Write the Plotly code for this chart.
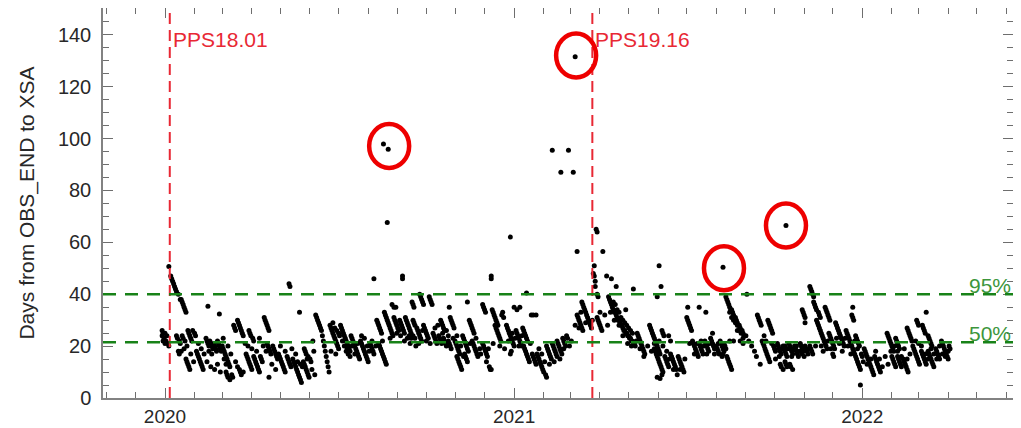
import pandas as pd
import plotly.graph_objects as go

# ---------------- data: (day offset from 2020-01-01, days from OBS_END to XSA) ----------------
obs_2020_q1 = [
    (-3, 24), (-2, 25), (-1, 23), (-2, 22), (0, 21), (1, 22), (0, 25), (2, 24), (3, 21), (4, 20), (-3, 26),
    (4, 50.7), (6, 47), (7, 46), (8, 45), (9, 44), (10, 43), (11, 42), (12, 41), (14, 40), (16, 38), (17, 38),
    (18, 37), (19, 36), (20, 35), (21, 34), (22, 33),
    (12, 24), (13, 23), (15, 22), (16, 21), (18, 24), (19, 23), (21, 22), (24, 26), (25, 25), (26, 24), (27, 23), (28, 22),
    (14, 18), (15, 17), (17, 18), (22, 15), (23, 14), (24, 13), (25, 12), (26, 11),
    (33, 18), (34, 17), (35, 16), (36, 15), (37, 14), (38, 13), (39, 12), (40, 11), (31, 25), (32, 24), (29, 26),
    (45, 35.4), (57, 32.4),
    (43, 23), (44, 22), (45, 21), (46, 20), (47, 22), (48, 21), (49, 20), (50, 19), (51, 21), (52, 20), (53, 19),
    (54, 18), (55, 22), (56, 21), (57, 20), (58, 19), (59, 18), (46, 18), (49, 17),
    (60, 20), (61, 19), (62, 18), (63, 17), (64, 16), (65, 15), (66, 14), (67, 13), (68, 12), (62, 15), (64, 13),
    (64, 10), (65, 9), (66, 8), (68, 7), (70, 9), (71, 8),
    (72, 28), (73, 27), (74, 26), (76, 30), (77, 29), (78, 28), (79, 27), (80, 26), (81, 25), (82, 24),
    (78, 11), (79, 10), (80, 9), (82, 10),
]
obs_2020_q2 = [
    (85, 17), (86, 16), (87, 15), (88, 14), (89, 13), (90, 12), (91, 11), (93, 16), (94, 15), (95, 14), (96, 13),
    (97, 12), (98, 11), (99, 10), (100, 16), (101, 15), (102, 14),
    (88, 26), (89, 25), (90, 24), (92, 23), (93, 22),
    (104, 31), (105, 30), (106, 29), (107, 28), (108, 27), (109, 26),
    (107, 21), (108, 20), (109, 19), (110, 18), (111, 17), (113, 20), (114, 19), (115, 18), (116, 17), (117, 16), (118, 15),
    (109, 8),
    (119, 17), (120, 16), (121, 15), (122, 14), (123, 13), (124, 12), (125, 11), (126, 10), (128, 16), (129, 15),
    (130, 14), (131, 13), (132, 12),
    (130, 44), (131, 43), (141, 33),
    (134, 15), (135, 14), (136, 13), (137, 12), (138, 11), (139, 10), (140, 9), (141, 8), (142, 7), (143, 6),
    (145, 14), (146, 13), (147, 12), (148, 11), (149, 10), (150, 9), (151, 8), (144, 12), (152, 15), (153, 14),
    (146, 19), (147, 18), (148, 17), (150, 16), (155, 22), (156, 18),
    (158, 32), (159, 31), (160, 30), (161, 29), (162, 28), (163, 27), (164, 26), (165, 24), (166, 22), (167, 20),
    (168, 18), (169, 16), (170, 14), (171, 12), (172, 10),
]
obs_2020_q3 = [
    (173, 28), (174, 27), (175, 26), (176, 25), (177, 24), (178, 23), (179, 22), (180, 21), (181, 20), (182, 19),
    (176, 29), (178, 27), (180, 26), (182, 25),
    (184, 28), (185, 27), (186, 26), (187, 25), (188, 24), (189, 23), (190, 22), (191, 21), (192, 20), (193, 19),
    (194, 18), (195, 24), (196, 23), (197, 22), (198, 21), (199, 20), (200, 19), (201, 18), (202, 17), (203, 16),
    (204, 15), (190, 18), (192, 17), (194, 16),
    (205, 22), (206, 21), (207, 20), (208, 19), (209, 18), (210, 17), (211, 16), (212, 15), (213, 14),
    (215, 21), (216, 20), (217, 19), (218, 18), (219, 17), (219, 46),
    (222, 30), (223, 29), (224, 28), (225, 27), (226, 26), (227, 25), (224, 21), (225, 20), (226, 19), (227, 18),
    (228, 17), (229, 16), (230, 15), (231, 14), (232, 13),
    (230, 33), (231, 32), (232, 31), (233, 30), (234, 29), (235, 28), (236, 27), (237, 26), (238, 25),
    (238, 36), (240, 35), (242, 35), (233, 67.6),
    (240, 31), (241, 30), (242, 29), (243, 28), (244, 27), (245, 26), (246, 30), (247, 29), (248, 28), (249, 27),
    (250, 26), (251, 25), (252, 31), (253, 30), (254, 29), (255, 28), (256, 27), (257, 26), (258, 25), (260, 30),
    (261, 29), (262, 28), (249, 47), (249, 46),
    (256, 24), (258, 23), (260, 24), (262, 23), (264, 27), (265, 26), (266, 25), (267, 24), (268, 23), (269, 22),
    (271, 28), (272, 27), (273, 26), (274, 25), (275, 24), (276, 23),
    (259, 37), (260, 36), (261, 35), (267, 40), (268, 39), (269, 38), (270, 37), (271, 36), (277, 39), (278, 38),
    (279, 37), (280, 36),
]
obs_2020_q4 = [
    (281, 25), (282, 24), (283, 23), (284, 22), (285, 21), (287, 24), (288, 23), (289, 22), (290, 21), (292, 23),
    (293, 22), (294, 21), (295, 20), (297, 22), (298, 21), (299, 20), (300, 19),
    (289, 30), (290, 29), (291, 28), (292, 27), (293, 26), (299, 31), (300, 30), (301, 29), (302, 28), (303, 27),
    (298, 35), (317, 37),
    (304, 22), (305, 21), (306, 20), (307, 19), (308, 18), (309, 17), (312, 24), (313, 23), (314, 22), (315, 21),
    (316, 20), (317, 19), (318, 18), (322, 22), (323, 21), (324, 20), (325, 19), (326, 18), (327, 17), (328, 16),
    (306, 16), (307, 15), (308, 14), (309, 13), (310, 12), (311, 11), (314, 17), (315, 16), (316, 15), (317, 14),
    (319, 30), (320, 29), (321, 28), (322, 27), (323, 26), (324, 25),
    (333, 21), (334, 20), (335, 19), (336, 18), (337, 17), (338, 16), (340, 12), (341, 11), (342, 11),
    (333, 36), (334, 35), (335, 34), (336, 33), (342, 47), (342, 46),
    (343, 34), (344, 33), (345, 32), (346, 31), (347, 30), (348, 29), (349, 28),
    (346, 28), (347, 27), (348, 26), (349, 25), (350, 24), (351, 23), (352, 22),
    (353, 32), (355, 31), (354, 33),
]
obs_2021_h1 = [
    (362, 62),
    (358, 28), (359, 27), (360, 26), (361, 25), (362, 24), (363, 23), (364, 22), (365, 21), (366, 20), (368, 26),
    (369, 25), (370, 24), (371, 23), (372, 22), (373, 21), (374, 20), (375, 27), (376, 26), (377, 25), (378, 24),
    (379, 23), (366, 35), (369, 34), (372, 35), (379, 40.5), (362, 17), (363, 18),
    (376, 20), (377, 19), (378, 18), (379, 17), (380, 16), (381, 15), (382, 14), (384, 32), (386, 32), (389, 32),
    (385, 17), (386, 16), (387, 15), (388, 14), (389, 13), (390, 17), (391, 16), (392, 15), (393, 14), (394, 13),
    (395, 12), (396, 11), (397, 10), (399, 9), (400, 8),
    (400, 20), (401, 19), (402, 18), (403, 17), (404, 16), (405, 15), (406, 21), (407, 20), (408, 19), (409, 18),
    (410, 17), (411, 22), (412, 21), (413, 20), (414, 19), (415, 18), (416, 17), (417, 23), (418, 22), (419, 21),
    (420, 20), (421, 24), (422, 23),
    (406, 95.5), (423, 95.5), (415, 87), (428, 87), (432, 56.5),
    (432, 32), (433, 31), (434, 30), (435, 29), (436, 28), (437, 27), (438, 26), (437, 37), (438, 36), (439, 35),
    (440, 34), (441, 33), (442, 32), (443, 31), (444, 30), (445, 29), (446, 28), (447, 27),
    (450, 51), (452, 65), (453, 64), (449, 48), (450, 47), (451, 45), (451, 43),
    (453, 31), (454, 30), (455, 29), (456, 28), (457, 27), (458, 26), (459, 56.5), (453, 40), (454, 39),
    (463, 47), (468, 46), (473, 43),
    (465, 39), (466, 38), (467, 37), (468, 36), (469, 35), (470, 34), (471, 33), (472, 33), (473, 32), (474, 31),
    (475, 30), (476, 30), (477, 29), (478, 28), (479, 28), (480, 27), (481, 26), (482, 26), (483, 25), (484, 25),
    (485, 24), (486, 24), (487, 23), (488, 23), (489, 22), (490, 22), (491, 21), (492, 21), (493, 20),
    (470, 37), (472, 36), (474, 34), (476, 33), (478, 31), (480, 30), (482, 29), (484, 28), (486, 27), (488, 26), (490, 25),
]
obs_2021_h2 = [
    (483, 34), (491, 42), (518, 51), (520, 43), (516, 39),
    (495, 25), (496, 24), (497, 23), (498, 22), (499, 21), (500, 20), (501, 19), (502, 18), (503, 17),
    (508, 28), (509, 27), (510, 26), (511, 25), (512, 24), (513, 23), (514, 22), (515, 21), (516, 20), (517, 19),
    (518, 18), (519, 17), (521, 26), (522, 25), (523, 24),
    (513, 19), (514, 18), (515, 17), (516, 16), (517, 15), (518, 14), (519, 13), (520, 12), (521, 11), (522, 10),
    (524, 16), (525, 15), (526, 14), (527, 13), (528, 12), (516, 8), (519, 7.5), (521, 9),
    (530, 17), (531, 16), (532, 15), (533, 14), (534, 13), (535, 12), (536, 11), (538, 16), (539, 15), (540, 14),
    (541, 13), (542, 12), (543, 11), (544, 10), (528, 24), (530, 22),
    (547, 31), (548, 30), (549, 29), (550, 28), (551, 27), (552, 26), (548, 35), (567, 33), (560, 35),
    (553, 22), (554, 21), (555, 20), (556, 19), (557, 18), (558, 17), (559, 16), (560, 21), (561, 20), (562, 19),
    (563, 18), (564, 17), (566, 22), (567, 21), (568, 20), (569, 19), (570, 18), (572, 23), (573, 22), (574, 21),
    (575, 20), (576, 19), (578, 20), (579, 19), (580, 18), (581, 17), (582, 22), (583, 21), (584, 20), (585, 19),
    (574, 25),
    (588, 39), (589, 38), (590, 37), (591, 36), (592, 35), (593, 34), (594, 34), (595, 33), (596, 32), (597, 31),
    (598, 31), (599, 30), (600, 29), (601, 28), (602, 28), (603, 27), (604, 26), (605, 26), (606, 25), (607, 24),
    (592, 33), (594, 31), (596, 30), (598, 29), (600, 28), (602, 26), (604, 25), (606, 23),
    (586, 21), (587, 20), (585, 17), (586, 18), (589, 16), (590, 15), (591, 14), (592, 13), (593, 12), (594, 11),
    (610, 40),
    (621, 32), (622, 31), (623, 30), (624, 29), (625, 28), (632, 30), (633, 29), (634, 28), (635, 27), (636, 26), (637, 25),
    (626, 22), (627, 21), (628, 20), (629, 19), (630, 18), (631, 17), (632, 16), (633, 15), (634, 14), (638, 20),
    (639, 19), (640, 18),
    (642, 21), (643, 20), (644, 19), (645, 18), (646, 17), (648, 20), (649, 19), (650, 18), (651, 17), (652, 16),
    (654, 21), (655, 20), (656, 19), (657, 18), (658, 17), (660, 20), (661, 19), (662, 18), (663, 17), (664, 16),
    (666, 21), (667, 20), (668, 19), (669, 18), (671, 20), (672, 19), (673, 18), (674, 17), (676, 20), (677, 19), (678, 18),
    (645, 13), (646, 12), (648, 11), (650, 14), (651, 13), (652, 12), (655, 13), (656, 12), (658, 11),
    (668, 34), (669, 33), (670, 32), (671, 31), (671, 29),
    (676, 43), (677, 42), (678, 41), (679, 40), (680, 39),
    (680, 37), (681, 36), (682, 35), (683, 34), (685, 33), (686, 32), (687, 31), (692, 35), (693, 34), (694, 33),
    (695, 32), (696, 31), (697, 30),
    (683, 30), (684, 29), (685, 28), (686, 27), (687, 26), (688, 25), (689, 24), (690, 23), (691, 22), (692, 21),
    (693, 20), (694, 19), (696, 25), (697, 24), (698, 23), (699, 22), (700, 21), (701, 20), (702, 19),
    (703, 29), (704, 28), (705, 27), (706, 26), (707, 25), (708, 24), (709, 23), (710, 22), (711, 21), (712, 20),
    (700, 17), (701, 16),
]
obs_2022 = [
    (721, 35), (720, 32), (721, 31), (722, 30),
    (714, 26), (715, 25), (716, 24), (717, 23), (718, 22), (719, 21), (720, 20), (721, 19), (724, 24), (725, 23),
    (726, 22), (727, 21), (728, 20),
    (722, 18), (723, 17), (724, 16), (725, 15), (726, 14), (727, 13), (728, 12), (729, 11), (730, 17), (731, 16),
    (729, 5),
    (733, 19), (734, 18), (735, 17), (736, 16), (737, 15), (738, 14), (739, 13), (740, 12), (741, 11), (742, 10),
    (743, 9), (744, 16), (745, 15), (746, 14), (747, 13), (748, 12), (749, 11), (750, 10),
    (757, 25), (758, 24), (759, 23), (760, 22), (761, 21), (762, 20), (763, 19), (764, 18), (766, 23), (767, 22),
    (768, 21), (769, 20), (770, 19),
    (762, 16), (763, 15), (764, 14), (765, 13), (766, 12), (768, 16), (769, 15), (770, 14), (771, 13), (772, 12),
    (774, 15), (775, 14), (776, 13), (777, 12), (778, 11), (779, 10),
    (778, 27), (779, 26), (780, 25), (781, 24), (782, 23), (783, 22),
    (788, 30), (789, 29), (790, 28), (794, 28), (795, 27), (796, 26), (797, 25), (798, 33),
    (785, 19), (786, 18), (787, 17), (788, 16), (789, 15), (790, 14), (791, 13), (793, 18), (794, 17), (795, 16),
    (796, 15), (797, 14), (798, 13), (800, 18), (801, 17), (802, 16), (803, 15), (804, 14), (805, 13), (806, 12),
    (808, 19), (809, 18), (810, 17), (811, 16), (812, 15),
    (800, 24), (801, 23), (802, 22), (803, 21), (804, 20),
    (814, 22), (815, 21), (816, 20), (817, 19), (818, 18), (819, 17), (820, 16), (821, 15), (822, 20), (823, 19),
]
obs_scattered = [
    (20, 19), (23, 20), (27, 17), (30, 14), (35, 21), (38, 19), (41, 17), (44, 14), (48, 12), (52, 11), (55, 13),
    (58, 10), (61, 23), (66, 20), (69, 17), (74, 14), (76, 12), (84, 21), (87, 20), (91, 19), (96, 18), (99, 23),
    (103, 20), (106, 18), (112, 13), (116, 11), (121, 20), (126, 18), (133, 19), (137, 17), (139, 14), (142, 13),
    (149, 15), (154, 11), (157, 9), (174, 18), (179, 17), (183, 24), (186, 22), (188, 20), (191, 19), (196, 20),
    (199, 17), (202, 21), (206, 24), (209, 23), (212, 20), (214, 18), (217, 22), (221, 20), (228, 22), (236, 23),
    (239, 24), (243, 25), (247, 24), (251, 22), (254, 23), (257, 21), (263, 20), (266, 21), (270, 26), (274, 22),
    (278, 21), (283, 27), (286, 28), (291, 25), (295, 26), (297, 24), (302, 23), (306, 24), (310, 20), (313, 16),
    (320, 21), (326, 23), (330, 19), (331, 17), (337, 14), (339, 19), (344, 21), (351, 20), (356, 19), (360, 22),
    (364, 25), (367, 23), (371, 20), (374, 24), (380, 22), (383, 21), (392, 19), (395, 17), (398, 14), (403, 13),
    (408, 14), (411, 16), (414, 15), (418, 19), (424, 20), (426, 22), (430, 28), (434, 27), (436, 33), (441, 29),
    (448, 30), (456, 33), (461, 32), (464, 28), (467, 33), (471, 30), (476, 28), (480, 24), (485, 21), (489, 20),
    (494, 22), (498, 19), (502, 16), (506, 20), (510, 18), (513, 21), (518, 22), (522, 20), (526, 18), (529, 15),
    (533, 11), (537, 9), (540, 11), (545, 15), (550, 21), (555, 17), (558, 21), (562, 22), (565, 20), (568, 17),
    (571, 21), (576, 17), (580, 21), (584, 16), (588, 19), (592, 22), (596, 22), (600, 26), (603, 22), (606, 21),
    (609, 24), (612, 22), (615, 20), (618, 18), (620, 16), (624, 13), (628, 24), (630, 22), (636, 21), (640, 15),
    (644, 16), (647, 19), (650, 20), (653, 19), (657, 16), (659, 19), (662, 20), (665, 18), (668, 17), (670, 16),
    (675, 19), (679, 17), (682, 20), (688, 20), (690, 18), (695, 22), (698, 19), (704, 23), (707, 21), (710, 18),
    (713, 23), (716, 20), (719, 17), (723, 22), (726, 19), (732, 14), (736, 13), (740, 15), (745, 18), (749, 15),
    (752, 12), (755, 16), (758, 13), (761, 18), (765, 20), (768, 18), (772, 16), (775, 19), (778, 15), (781, 17),
    (784, 20), (787, 22), (790, 21), (793, 20), (797, 17), (800, 15), (803, 19), (806, 17), (809, 15), (812, 20),
    (815, 17), (818, 16), (821, 18),
]
# highlighted (circled) observations
circled_day = [229, 234, 430, 585, 651]
circled_val = [97.9, 95.9, 131.5, 50.4, 66.5]
# circle centres (one circle per highlight group)
circle_day = [235, 431, 586, 651]
circle_val = [97.1, 132.0, 50.0, 66.5]

epoch = pd.Timestamp("2020-01-01")
release_dates = ["2020-01-06", "2021-03-24"]
release_names = ["PPS18.01", "PPS19.16"]
pct_levels = [40.0, 21.5]
pct_names = ["95%", "50%"]

all_obs = (obs_2020_q1 + obs_2020_q2 + obs_2020_q3 + obs_2020_q4 + obs_2021_h1 + obs_2021_h2
           + obs_2022 + obs_scattered)
obs_day = [p[0] for p in all_obs] + circled_day
obs_val = [p[1] for p in all_obs] + circled_val
obs_date = epoch + pd.to_timedelta(obs_day, unit="D")
circle_date = epoch + pd.to_timedelta(circle_day, unit="D")

FONT = "Liberation Sans, Arial"
fig = go.Figure()
fig.add_trace(go.Scatter(x=obs_date, y=obs_val, mode="markers",
                         marker=dict(color="black", size=5, line=dict(width=0)),
                         showlegend=False, hoverinfo="x+y"))

RED = "rgb(232,40,52)"
GREEN = "rgb(24,130,24)"
for d, name in zip(release_dates, release_names):
    fig.add_shape(type="line", xref="x", yref="paper", x0=d, x1=d, y0=0, y1=1,
                  line=dict(color=RED, width=2, dash="11px,6px"))
    fig.add_annotation(x=d, y=138, xref="x", yref="y", text=name, showarrow=False,
                       xanchor="left", yanchor="middle", xshift=1,
                       font=dict(family=FONT, size=21, color=RED))
for lv, name in zip(pct_levels, pct_names):
    fig.add_shape(type="line", xref="paper", yref="y", x0=0, x1=1, y0=lv, y1=lv,
                  line=dict(color=GREEN, width=2.5, dash="13px,9px"))
    fig.add_annotation(x=1, y=lv, xref="paper", yref="y", text=name, showarrow=False,
                       xanchor="right", yanchor="bottom", yshift=-5, xshift=0,
                       font=dict(family=FONT, size=21, color="rgb(60,150,60)"))
for cd, cv in zip(circle_date, circle_val):
    fig.add_shape(type="circle", xref="x", yref="y", xsizemode="pixel", ysizemode="pixel",
                  xanchor=cd, yanchor=cv, x0=-20, x1=20, y0=-22, y1=22,
                  line=dict(color="rgb(238,0,0)", width=4.5))

axis_common = dict(showline=True, linecolor="rgb(130,130,130)", linewidth=1.5, mirror="allticks",
                   ticks="inside", tickcolor="rgb(110,110,110)", showgrid=False, zeroline=False,
                   automargin=False)
fig.update_xaxes(type="date", range=["2019-10-28", "2022-06-08"], dtick="M12", tick0="2020-01-01",
                 tickformat="%Y", ticklen=10, ticklabelstandoff=0,
                 tickfont=dict(family=FONT, size=19, color="rgb(40,40,40)"),
                 minor=dict(dtick="M1", ticks="inside", ticklen=6, tickcolor="rgb(110,110,110)"),
                 **axis_common)
fig.update_yaxes(range=[0, 150.3], dtick=20, ticklen=10, ticklabelstandoff=6,
                 tickfont=dict(family=FONT, size=20, color="rgb(40,40,40)"),
                 minor=dict(dtick=5, ticks="inside", ticklen=6, tickcolor="rgb(110,110,110)"),
                 title=dict(text="Days from OBS_END to XSA", standoff=18,
                            font=dict(family=FONT, size=21, color="rgb(40,40,40)")),
                 **axis_common)
# the page body adds an 8px offset, so the figure is sized to fit the 1021x428 window
fig.update_layout(width=1013, height=420, margin=dict(l=95, r=8, t=0, b=30),
                  plot_bgcolor="white", paper_bgcolor="white")
fig.write_html("out.html")
